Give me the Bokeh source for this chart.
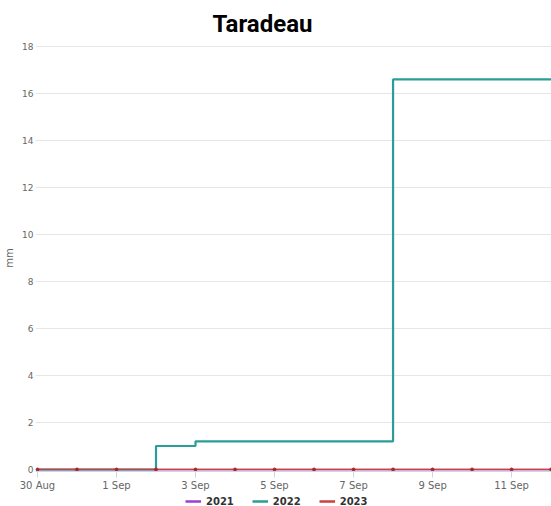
from datetime import datetime
from bokeh.plotting import figure
from bokeh.layouts import column
from bokeh.models import Range1d, FixedTicker, Legend, LegendItem
from bokeh.embed import file_html
from bokeh.resources import INLINE

# ---- data (cumulative rainfall, mm) ----
dates = ["2023-08-30", "2023-08-31", "2023-09-01", "2023-09-02", "2023-09-03",
         "2023-09-04", "2023-09-05", "2023-09-06", "2023-09-07", "2023-09-08",
         "2023-09-09", "2023-09-10", "2023-09-11", "2023-09-12", "2023-09-13"]
rain_2021 = [0, 0, 0, 0, 0, 0, 0, 0, 0, 0, 0, 0, 0, 0, 0]
rain_2022 = [0, 0, 0, 1.0, 1.2, 1.2, 1.2, 1.2, 1.2, 16.6, 16.6, 16.6, 16.6, 16.6, 16.6]
rain_2023 = [0, 0, 0, 0, 0, 0, 0, 0, 0, 0, 0, 0, 0, 0, 0]
series_names = ["2021", "2022", "2023"]
tick_dates = ["2023-08-30", "2023-09-01", "2023-09-03", "2023-09-05",
              "2023-09-07", "2023-09-09", "2023-09-11"]
tick_labels = ["30 Aug", "1 Sep", "3 Sep", "5 Sep", "7 Sep", "9 Sep", "11 Sep"]
y_ticks = [0, 2, 4, 6, 8, 10, 12, 14, 16, 18]

x = [datetime.strptime(d, "%Y-%m-%d") for d in dates]
DAY = 86400000.0
def ms(d):
    return (datetime.strptime(d, "%Y-%m-%d") - datetime(1970, 1, 1)).total_seconds() * 1000.0

x0 = ms("2023-08-30") - 0.05 * DAY
x1 = ms("2023-08-30") + 13.01 * DAY

p = figure(frame_width=516, frame_height=427, x_axis_type="datetime",
           output_backend="svg", toolbar_location=None,
           x_range=Range1d(x0, x1), y_range=Range1d(-0.085, 18.085),
           min_border_left=35, min_border_right=0, min_border_top=44,
           min_border_bottom=0)
p.outline_line_color = None
p.background_fill_color = "white"
p.border_fill_color = "white"

p.title.text = "Taradeau"
p.title.text_font = "Roboto"
p.title.text_font_size = "24px"
p.title.text_font_style = "bold"
p.title.text_color = "#000000"
p.title.align = "left"
p.title.offset = 177
p.title.standoff = 14

c21, c22, c23 = "#9b3fd1", "#2a9d99", "#cc4040"
p.step(x, rain_2021, mode="after", line_color=c21, line_width=1.4)
p.step(x, rain_2022, mode="after", line_color=c22, line_width=2.2)
p.step(x, rain_2023, mode="after", line_color=c23, line_width=1.6)
p.scatter(x, rain_2023, size=3, color="#a82828")

# axes
p.xaxis.ticker = FixedTicker(ticks=[ms(d) for d in tick_dates])
p.xaxis.major_label_overrides = {ms(d): l for d, l in zip(tick_dates, tick_labels)}
p.xaxis.axis_line_color = "#ccd6eb"
p.xaxis.major_tick_line_color = "#ccd6eb"
p.xaxis.major_tick_out = 6
p.xaxis.major_tick_in = 0
p.xaxis.minor_tick_line_color = None
p.xaxis.minor_tick_out = 0
p.xaxis.minor_tick_in = 0
p.xaxis.major_label_text_font = "DejaVu Sans"
p.xaxis.major_label_text_font_size = "10px"
p.xaxis.major_label_text_color = "#666666"
p.xaxis.major_label_standoff = 2
p.xaxis.axis_label = None
p.xaxis.axis_label_standoff = 0

p.yaxis.ticker = FixedTicker(ticks=y_ticks)
p.yaxis.axis_line_color = None
p.yaxis.major_tick_line_color = None
p.yaxis.minor_tick_line_color = None
p.yaxis.major_tick_out = 0
p.yaxis.major_tick_in = 0
p.yaxis.minor_tick_out = 0
p.yaxis.minor_tick_in = 0
p.yaxis.major_label_text_font = "DejaVu Sans"
p.yaxis.major_label_text_font_size = "9px"
p.yaxis.major_label_text_color = "#666666"
p.yaxis.major_label_standoff = 2
p.yaxis.axis_label = "mm"
p.yaxis.axis_label_text_font = "DejaVu Sans"
p.yaxis.axis_label_text_font_size = "10px"
p.yaxis.axis_label_text_font_style = "normal"
p.yaxis.axis_label_text_color = "#666666"
p.yaxis.axis_label_standoff = 4

p.xgrid.grid_line_color = None
p.ygrid.grid_line_color = "#e6e6e6"
p.ygrid.ticker = FixedTicker(ticks=y_ticks)

# ---- legend strip below the chart ----
lg = figure(width=551, height=14, output_backend="svg", toolbar_location=None,
            x_axis_type="datetime", x_axis_location=None, y_axis_location=None,
            x_range=Range1d(x0, x1), y_range=Range1d(100, 101),
            min_border=0)
lg.outline_line_color = None
lg.grid.grid_line_color = None
lg.background_fill_color = "white"
lg.border_fill_color = "white"
l21 = lg.step(x, rain_2021, mode="after", line_color=c21, line_width=2.5)
l22 = lg.step(x, rain_2022, mode="after", line_color=c22, line_width=2.5)
l23 = lg.step(x, rain_2023, mode="after", line_color=c23, line_width=2.5)

legend = Legend(items=[LegendItem(label=series_names[0], renderers=[l21]),
                       LegendItem(label=series_names[1], renderers=[l22]),
                       LegendItem(label=series_names[2], renderers=[l23])],
                location=(150, 0), orientation="horizontal",
                padding=0, margin=0, spacing=18, label_standoff=5,
                glyph_width=16, glyph_height=12, label_height=12,
                label_text_font="DejaVu Sans", label_text_font_size="10px",
                label_text_font_style="bold", label_text_color="#333333",
                label_text_baseline="middle",
                border_line_color=None, background_fill_alpha=0)
lg.add_layout(legend)

layout = column(p, lg, spacing=0)
open("out.html", "w").write(file_html(layout, INLINE))
